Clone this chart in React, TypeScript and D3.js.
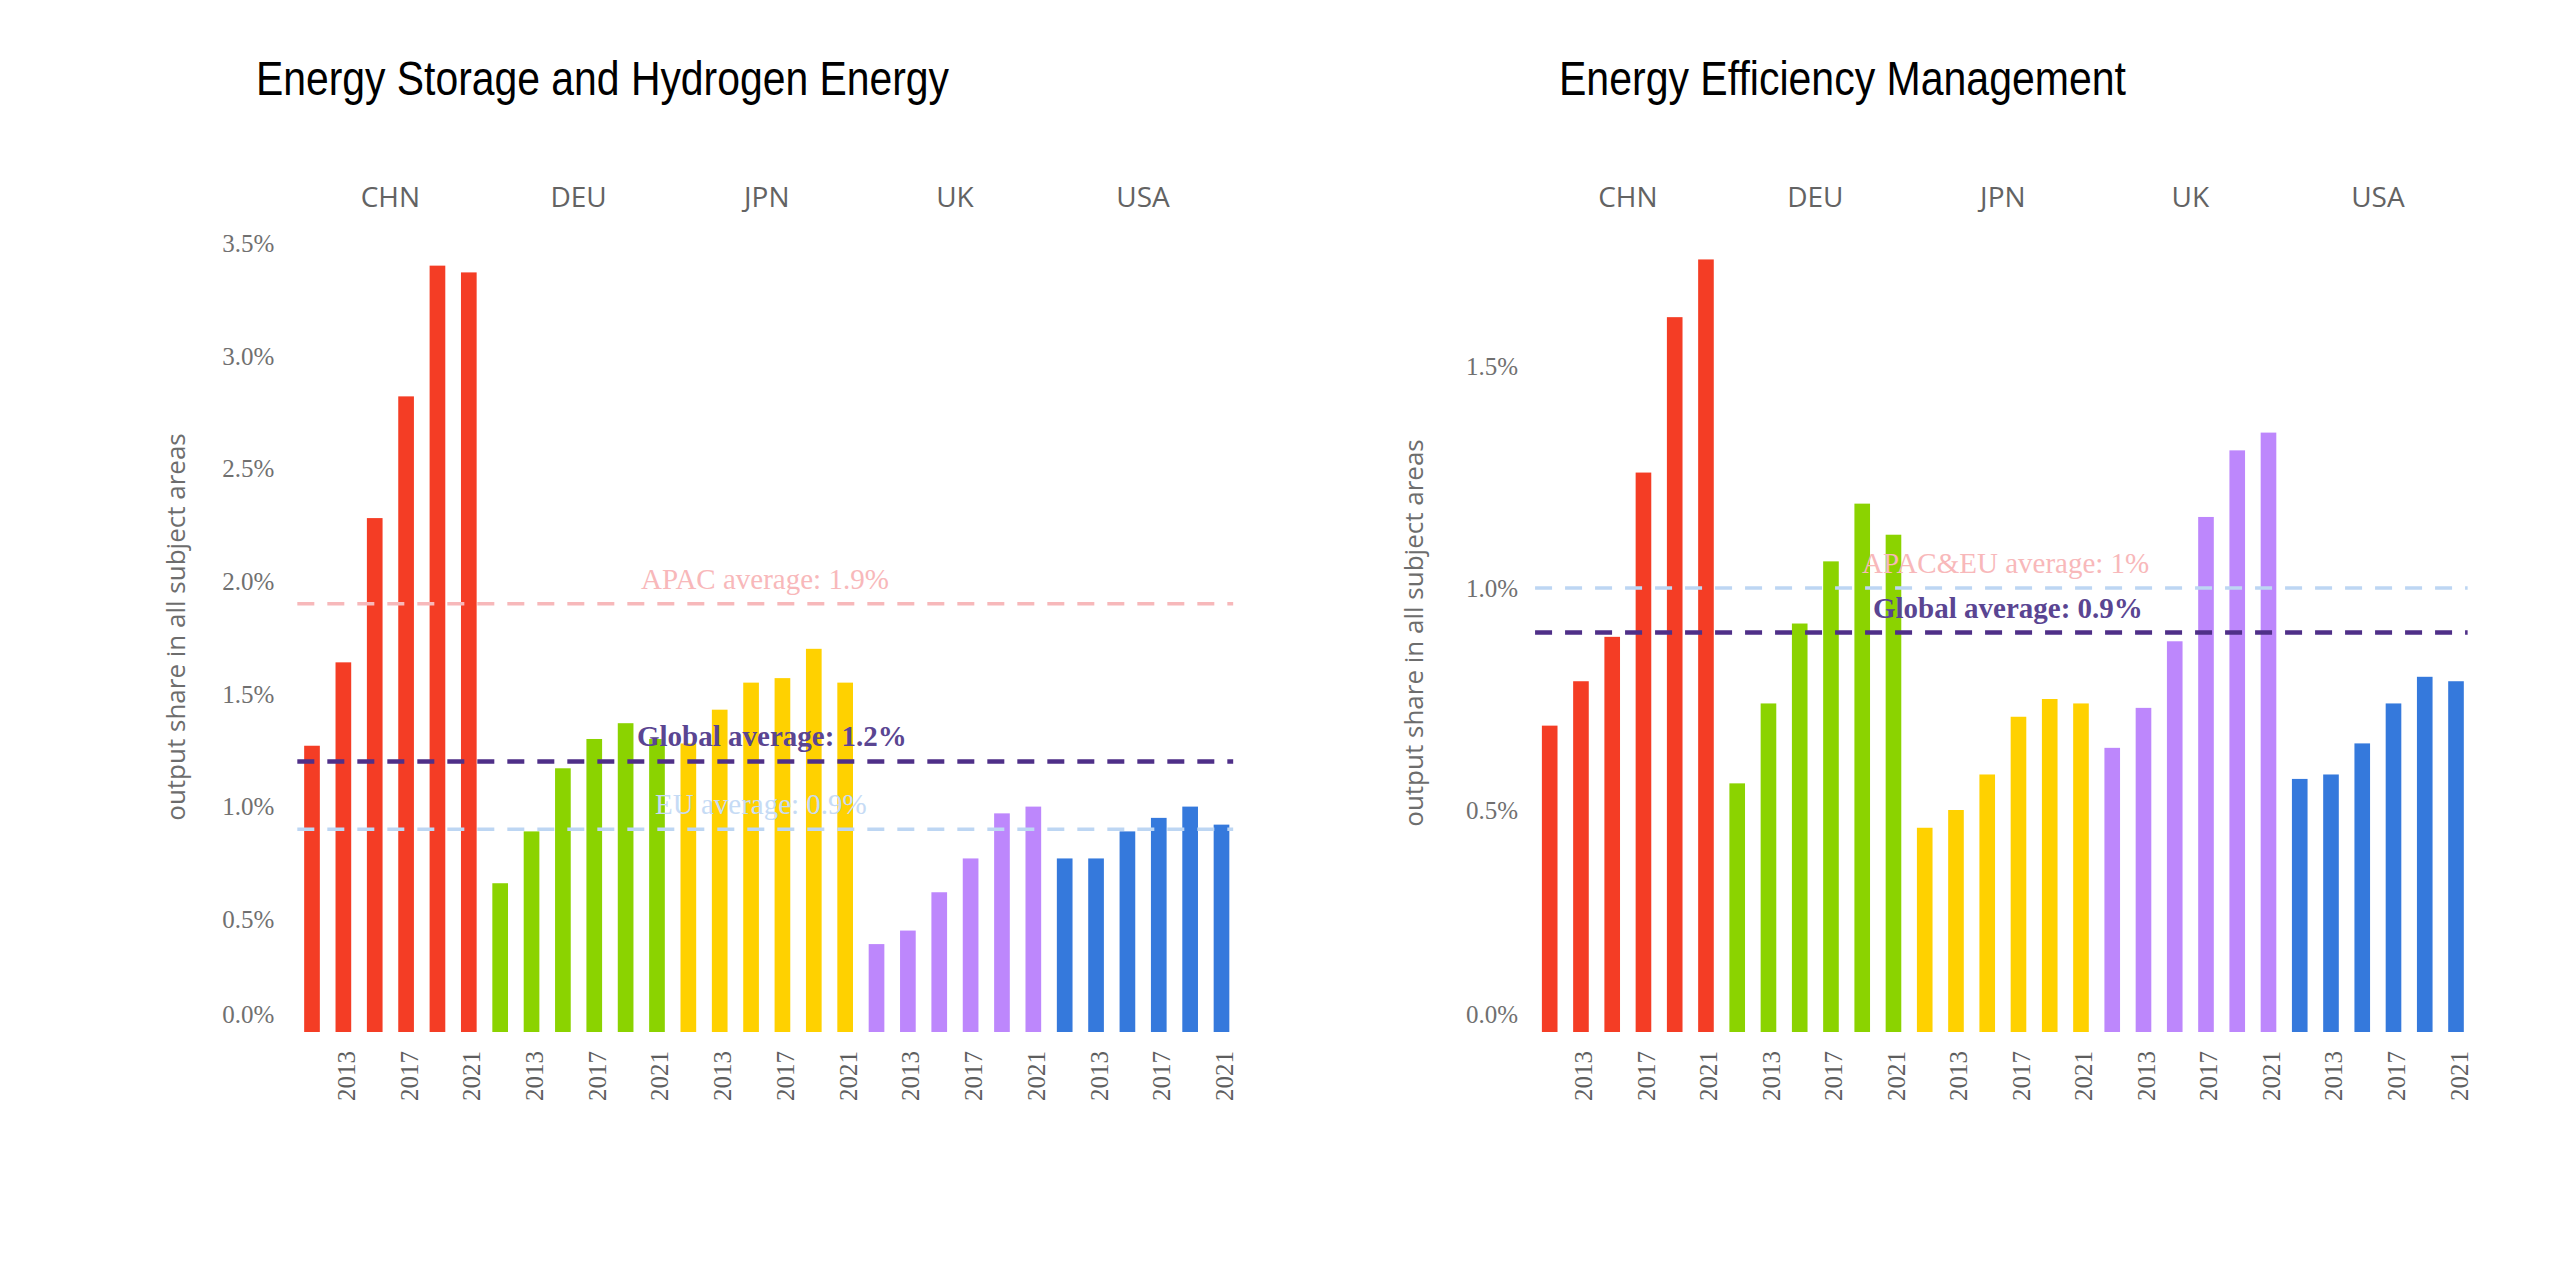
import React from "react";
import * as d3 from "d3";

// ---------- data ----------
const countries = ["CHN", "DEU", "JPN", "UK", "USA"];
const years = [2011, 2013, 2015, 2017, 2019, 2021];
const labelledYears = [2013, 2017, 2021];
const countryColors = ["#f43d25", "#8bd300", "#ffd100", "#bd87fc", "#3579dc"];

// Energy Storage and Hydrogen Energy (output share, %)
const storageCHN = [1.27, 1.64, 2.28, 2.82, 3.40, 3.37];
const storageDEU = [0.66, 0.89, 1.17, 1.30, 1.37, 1.30];
const storageJPN = [1.28, 1.43, 1.55, 1.57, 1.70, 1.55];
const storageUK = [0.39, 0.45, 0.62, 0.77, 0.97, 1.0];
const storageUSA = [0.77, 0.77, 0.89, 0.95, 1.0, 0.92];
const storageTicks = [0, 0.5, 1, 1.5, 2, 2.5, 3, 3.5];
const storageRefNames = ["APAC average: 1.9%", "Global average: 1.2%", "EU average: 0.9%"];
const storageRefValues = [1.9, 1.2, 0.9];

// Energy Efficiency Management (output share, %)
const efficiencyCHN = [0.69, 0.79, 0.89, 1.26, 1.61, 1.74];
const efficiencyDEU = [0.56, 0.74, 0.92, 1.06, 1.19, 1.12];
const efficiencyJPN = [0.46, 0.5, 0.58, 0.71, 0.75, 0.74];
const efficiencyUK = [0.64, 0.73, 0.88, 1.16, 1.31, 1.35];
const efficiencyUSA = [0.57, 0.58, 0.65, 0.74, 0.8, 0.79];
const efficiencyTicks = [0, 0.5, 1, 1.5];
const efficiencyRefNames = ["APAC&EU average: 1%", "Global average: 0.9%"];
const efficiencyRefValues = [1.0, 0.9];

const yAxisTitle = "output share in all subject areas";

// ---------- styles ----------
const PINK = "#f7b8ba";
const PURPLE = "#4f2f88";
const LIGHTBLUE = "#bdd6f3";
const SERIF = "'Liberation Serif', 'DejaVu Serif', serif";
const SANS = "'Open Sans', 'Liberation Sans', sans-serif";

type Ref = {
  name: string;
  value: number;
  lineColor: string;
  textColor: string;
  lineWidth: number;
  bold: boolean;
  labelX: number;
  labelDy: number;
};

type PanelProps = {
  title: string;
  titleX: number;
  titleWidth: number;
  series: number[][];
  ticks: number[];
  yMax: number;
  firstCenter: number;
  lastCenter: number;
  pxPerPct: number;
  tickGap: number;
  axisTitleY: number;
  refs: Ref[];
};

const BASELINE = 1032;

function Panel(p: PanelProps) {
  const n = countries.length * years.length;
  const keys = d3.range(n).map(String);
  const step = (p.lastCenter - p.firstCenter) / (n - 1);
  const x = d3
    .scaleBand<string>()
    .domain(keys)
    .range([p.firstCenter - step / 2, p.lastCenter + step / 2])
    .paddingInner(0.5)
    .paddingOuter(0.25);
  const y = d3
    .scaleLinear()
    .domain([0, p.yMax])
    .range([BASELINE, BASELINE - p.yMax * p.pxPerPct]);
  const [r0, r1] = x.range();
  const cx = (i: number) => (x(String(i)) as number) + x.bandwidth() / 2;

  return (
    <g>
      <text
        x={p.titleX}
        y={95}
        fontFamily="'Liberation Sans', Arial, sans-serif"
        fontSize={48}
        textLength={p.titleWidth}
        lengthAdjust="spacingAndGlyphs"
        fill="#000"
      >
        {p.title}
      </text>
      {/* category labels */}
      {countries.map((c, ci) => {
        const mid = (cx(ci * 6) + cx(ci * 6 + 5)) / 2;
        return (
          <text key={c} x={mid} y={207} textAnchor="middle" fontFamily={SANS} fontSize={28} fill="#636363">
            {c}
          </text>
        );
      })}
      {/* y tick labels */}
      {p.ticks.map((t) => (
        <text
          key={t}
          x={r0 - p.tickGap}
          y={Math.min(y(t), BASELINE - 18)}
          dy="0.35em"
          textAnchor="end"
          fontFamily={SERIF}
          fontSize={25}
          fill="#707070"
        >
          {t.toFixed(1)}%
        </text>
      ))}
      {/* y axis title */}
      <text
        transform={`translate(${r0 - 121},${p.axisTitleY}) rotate(-90)`}
        textAnchor="middle"
        dominantBaseline="central"
        fontFamily={SANS}
        fontSize={26}
        fill="#6d6d6d"
      >
        {yAxisTitle}
      </text>
      {/* bars */}
      {p.series.map((vals, ci) =>
        vals.map((v, yi) => {
          const i = ci * 6 + yi;
          return (
            <rect
              key={i}
              x={x(String(i))}
              y={y(v)}
              width={x.bandwidth()}
              height={BASELINE - y(v)}
              fill={countryColors[ci]}
            />
          );
        })
      )}
      {/* x tick labels */}
      {p.series.map((_, ci) =>
        years.map((yr, yi) =>
          labelledYears.includes(yr) ? (
            <text
              key={`${ci}-${yr}`}
              transform={`translate(${cx(ci * 6 + yi) + 3},${BASELINE + 19}) rotate(-90)`}
              textAnchor="end"
              dominantBaseline="central"
              fontFamily={SERIF}
              fontSize={25}
              fill="#5e5e5e"
            >
              {yr}
            </text>
          ) : null
        )
      )}
      {/* reference lines */}
      {p.refs.map((r) => (
        <line
          key={r.name}
          x1={r0 + 1}
          x2={r1 - 4}
          y1={y(r.value)}
          y2={y(r.value)}
          stroke={r.lineColor}
          strokeWidth={r.lineWidth}
          strokeDasharray="17 13"
        />
      ))}
      {p.refs.map((r) => (
        <text
          key={r.name + "-t"}
          x={r.labelX}
          y={y(r.value) + r.labelDy}
          fontFamily={SERIF}
          fontSize={29}
          fontWeight={r.bold ? 700 : 400}
          fill={r.textColor}
        >
          {r.name}
        </text>
      ))}
    </g>
  );
}

export default function App() {
  const storageRefs: Ref[] = [
    { name: storageRefNames[0], value: storageRefValues[0], lineColor: PINK, textColor: "#f8b8ba", lineWidth: 3.5, bold: false, labelX: 641, labelDy: -15 },
    { name: storageRefNames[1], value: storageRefValues[1], lineColor: PURPLE, textColor: "#5a4592", lineWidth: 4.5, bold: true, labelX: 637, labelDy: -16 },
    { name: storageRefNames[2], value: storageRefValues[2], lineColor: LIGHTBLUE, textColor: "#c6dbf5", lineWidth: 3.5, bold: false, labelX: 655, labelDy: -15 },
  ];
  const efficiencyRefs: Ref[] = [
    { name: efficiencyRefNames[0], value: efficiencyRefValues[0], lineColor: LIGHTBLUE, textColor: "#f8b8ba", lineWidth: 3.5, bold: false, labelX: 1862, labelDy: -15 },
    { name: efficiencyRefNames[1], value: efficiencyRefValues[1], lineColor: PURPLE, textColor: "#5a4592", lineWidth: 4.5, bold: true, labelX: 1873, labelDy: -14 },
  ];
  return (
    <svg
      width={2560}
      height={1280}
      style={{ position: "absolute", left: 0, top: 0, background: "#fff" }}
    >
      <rect width={2560} height={1280} fill="#fff" />
      <Panel
        title="Energy Storage and Hydrogen Energy"
        titleX={256}
        titleWidth={693}
        series={[storageCHN, storageDEU, storageJPN, storageUK, storageUSA]}
        ticks={storageTicks}
        yMax={3.6}
        firstCenter={312}
        lastCenter={1221.5}
        pxPerPct={225.4}
        tickGap={22}
        axisTitleY={627}
        refs={storageRefs}
      />
      <Panel
        title="Energy Efficiency Management"
        titleX={1559}
        titleWidth={567}
        series={[efficiencyCHN, efficiencyDEU, efficiencyJPN, efficiencyUK, efficiencyUSA]}
        ticks={efficiencyTicks}
        yMax={1.85}
        firstCenter={1549.7}
        lastCenter={2456}
        pxPerPct={444}
        tickGap={16}
        axisTitleY={633}
        refs={efficiencyRefs}
      />
    </svg>
  );
}
